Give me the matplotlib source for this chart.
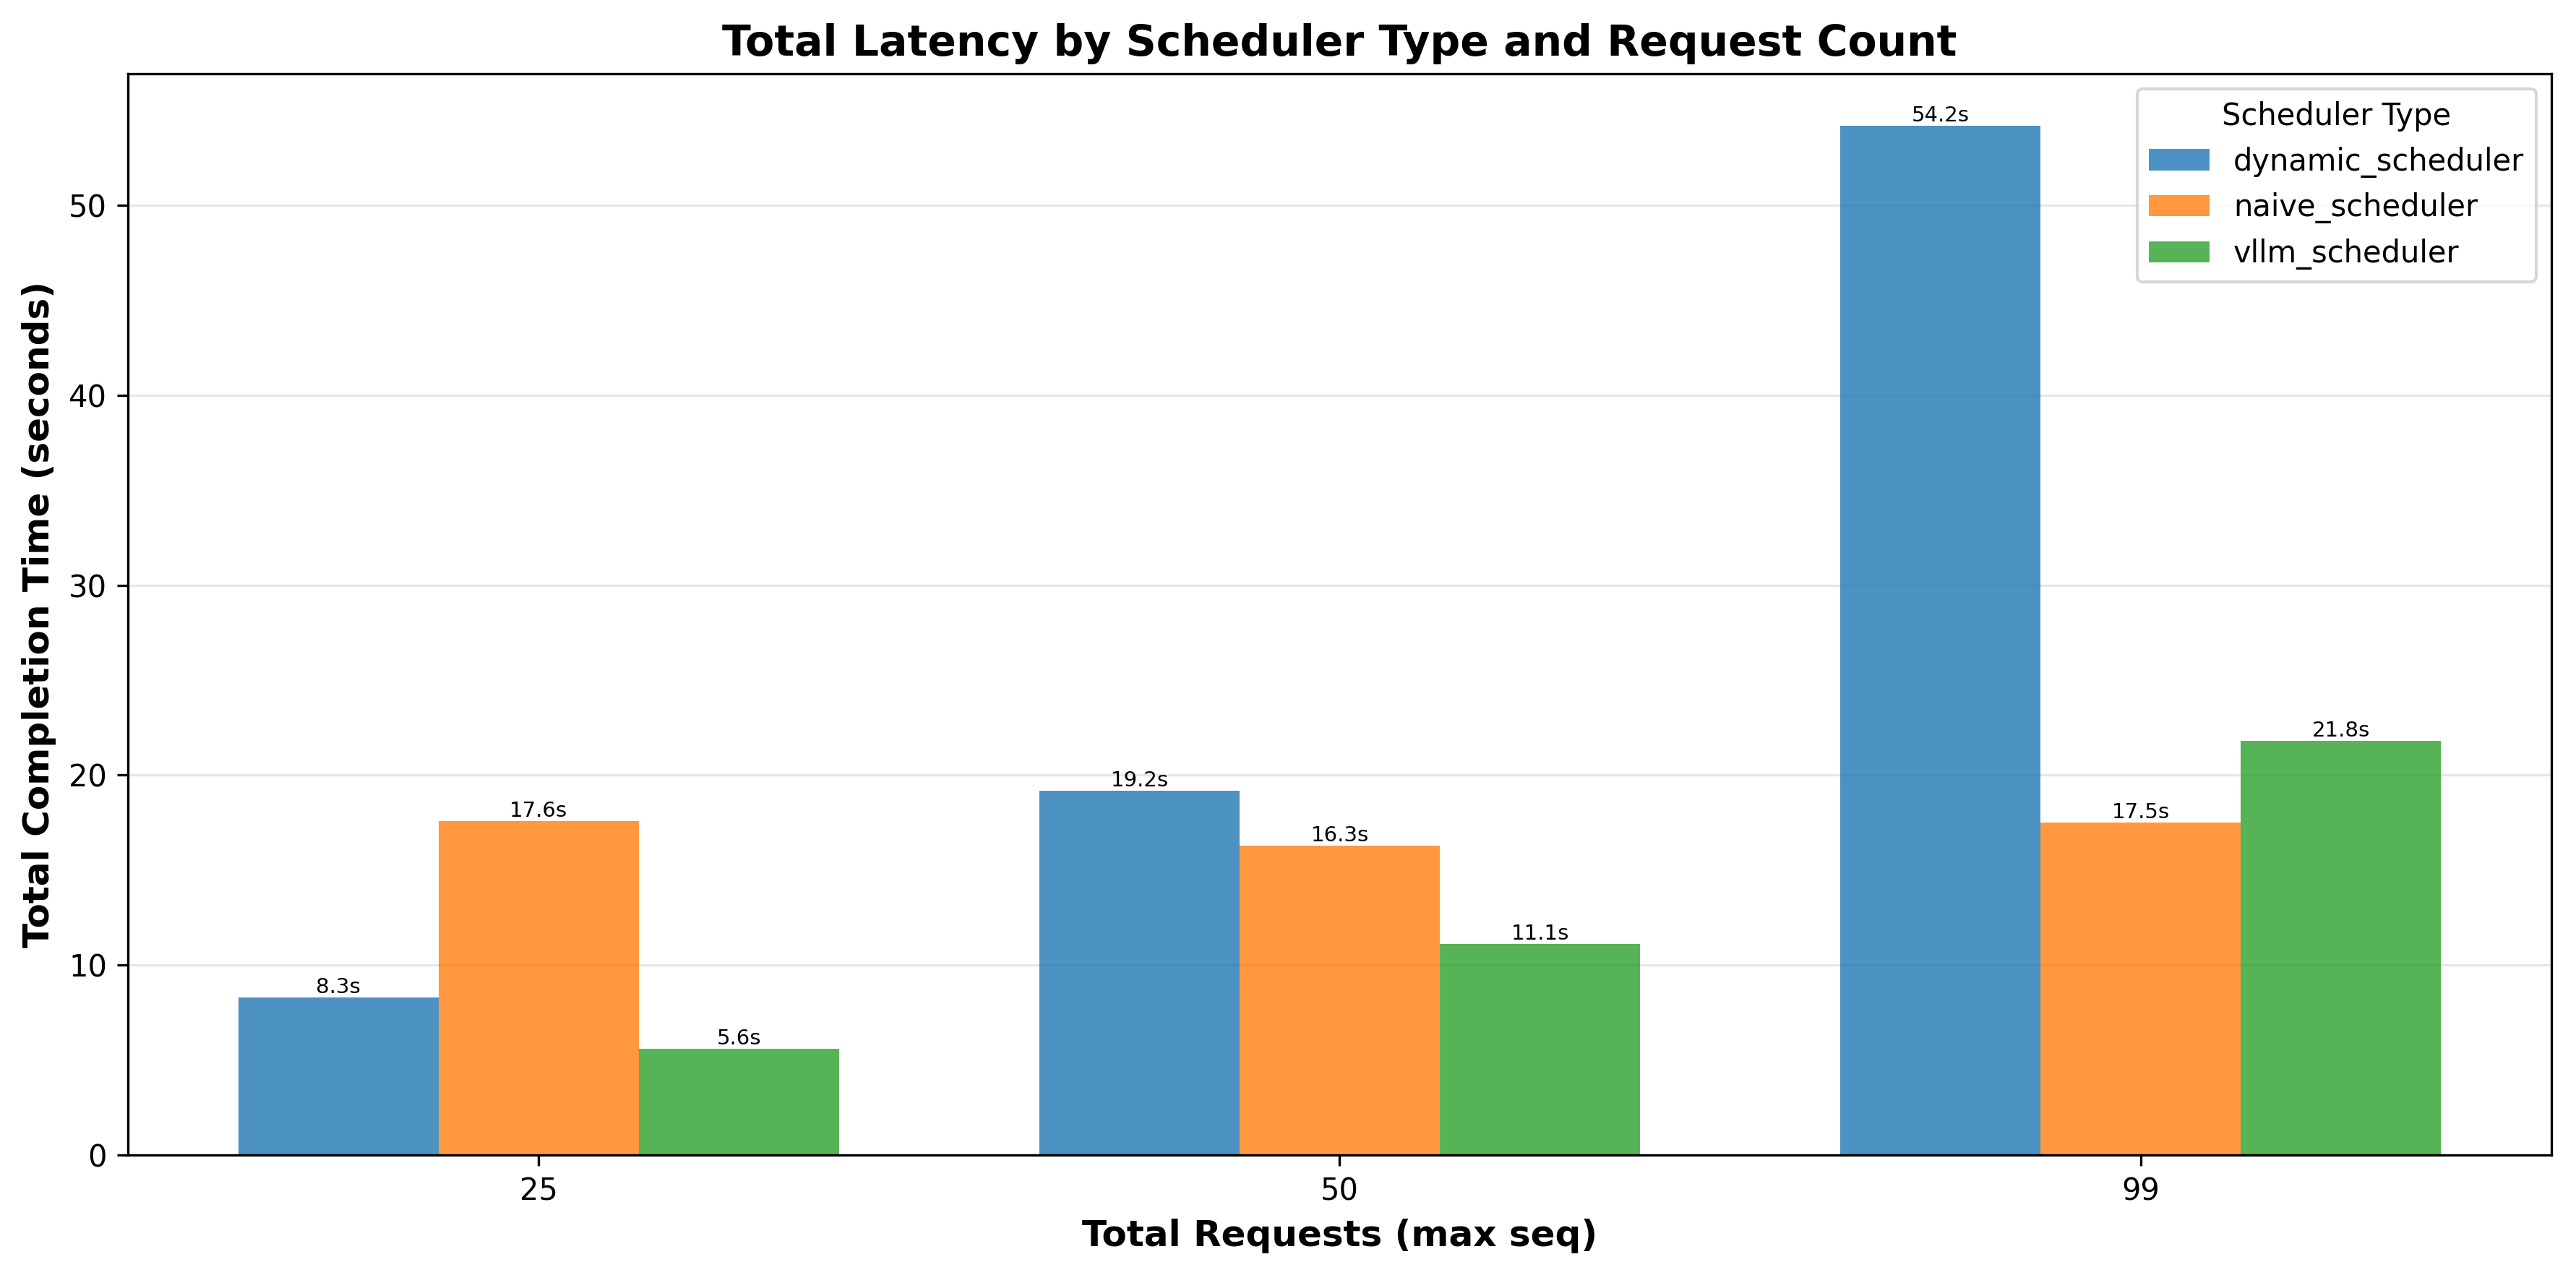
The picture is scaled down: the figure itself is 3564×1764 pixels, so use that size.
import numpy as np
import matplotlib
matplotlib.use('Agg')
from matplotlib import pyplot as plt

# data
requests = ['25', '50', '99']
schedulers = ['dynamic_scheduler', 'naive_scheduler', 'vllm_scheduler']
dynamic = [8.3, 19.2, 54.2]
naive = [17.6, 16.3, 17.5]
vllm = [5.6, 11.1, 21.8]

values = [dynamic, naive, vllm]
colors = ['#1f77b4', '#ff7f0e', '#2ca02c']

x = np.arange(len(requests))
width = 0.25

fig, ax = plt.subplots(figsize=(11.88, 5.88), dpi=300)
for i, (name, vals) in enumerate(zip(schedulers, values)):
    bars = ax.bar(x + (i - 1) * width, vals, width, label=name,
                  color=colors[i], alpha=0.8)
    for b, v in zip(bars, vals):
        ax.text(b.get_x() + b.get_width() / 2, b.get_height(), f'{v}s',
                ha='center', va='bottom', fontsize=7)

ax.set_xticks(x)
ax.set_xticklabels(requests)
ax.set_xlabel('Total Requests (max seq)', fontsize=12, fontweight='bold')
ax.set_ylabel('Total Completion Time (seconds)', fontsize=12, fontweight='bold')
ax.set_title('Total Latency by Scheduler Type and Request Count',
             fontsize=14, fontweight='bold')
ax.legend(title='Scheduler Type', loc='upper right')
ax.grid(axis='y', alpha=0.3)
ax.set_axisbelow(True)

plt.subplots_adjust(left=0.0497, right=0.9904, top=0.942, bottom=0.094)
plt.savefig('out.png', dpi=300)
